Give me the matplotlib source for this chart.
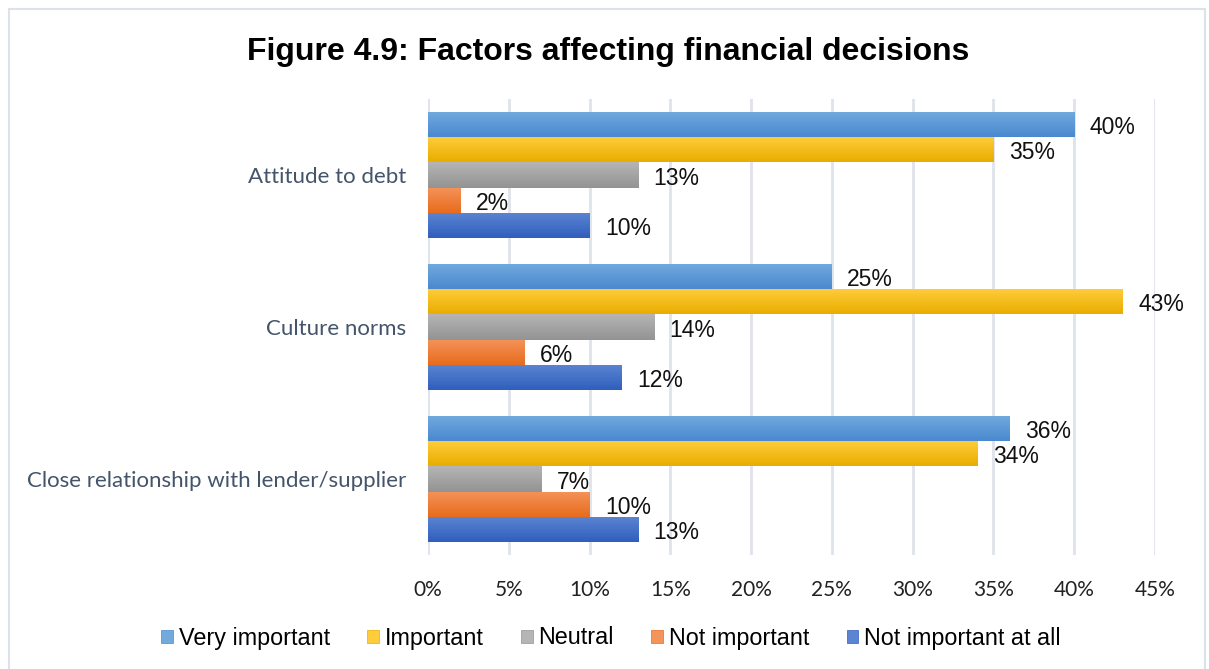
import numpy as np
import matplotlib.pyplot as plt
from matplotlib.colors import LinearSegmentedColormap
from matplotlib.patches import Patch, Rectangle

categories = ["Attitude to debt", "Culture norms", "Close relationship with lender/supplier"]
series = ["Very important", "Important", "Neutral", "Not important", "Not important at all"]

very_important = [40, 25, 36]
important = [35, 43, 34]
neutral = [13, 14, 7]
not_important = [2, 6, 10]
not_important_at_all = [10, 12, 13]

x_ticks = [0, 5, 10, 15, 20, 25, 30, 35, 40, 45]

# top / bottom colour of each series gradient
shades = [
    ("#72aade", "#4a89cf"),
    ("#ffcd3c", "#e9ad00"),
    ("#b5b5b5", "#939393"),
    ("#f4935a", "#e76c1c"),
    ("#5c84d2", "#2f5fbd"),
]

W, H = 1209, 669
fig = plt.figure(figsize=(W / 100, H / 100), dpi=100)
ax = fig.add_axes([428 / W, 1 - 555 / H, 727 / W, 456 / H])

values = [very_important, important, neutral, not_important, not_important_at_all]
bar_h = 0.167
grad = np.linspace(0, 1, 64).reshape(-1, 1)

for i, (name, vals) in enumerate(zip(series, values)):
    y = np.arange(len(categories)) + (i - 2) * bar_h
    cmap = LinearSegmentedColormap.from_list(name, [shades[i][0], shades[i][1]])
    bars = ax.barh(y, vals, height=bar_h, color=shades[i][1], linewidth=0, zorder=2)
    for b, v in zip(bars, vals):
        b.set_alpha(0)
        x0, y0 = b.get_x(), b.get_y()
        # y axis is inverted, so the first row of the gradient goes to the smaller y
        im = ax.imshow(grad, cmap=cmap, aspect="auto", zorder=3, origin="upper",
                       extent=(x0, x0 + b.get_width(), y0 + b.get_height(), y0))
        im.set_clip_path(b)
        ax.text(v + 0.95, y0 + bar_h / 2 + 0.02, f"{v}%", va="center", ha="left",
                fontsize=16.5, family="Liberation Sans", color="#111111", zorder=4)

ax.set_xlim(0, 45)
ax.set_ylim(2.5, -0.5)
ax.set_xticks(x_ticks)
ax.set_xticklabels([f"{t}%" for t in x_ticks], family="Lato", fontsize=15, color="#222222")
ax.set_yticks(range(len(categories)))
ax.set_yticklabels(categories, family="Lato", fontsize=16, color="#44546a")
ax.tick_params(axis="x", length=0, pad=18)
ax.tick_params(axis="y", length=0, pad=16)
ax.grid(axis="x", color="#dfe3ea", linewidth=2, zorder=0)
ax.set_axisbelow(True)
for s in ax.spines.values():
    s.set_visible(False)

fig.text(608 / W, 1 - 52 / H, "Figure 4.9: Factors affecting financial decisions",
         ha="center", va="center", fontsize=23, fontweight="bold", family="Liberation Sans")

handles = [Patch(facecolor=c[0], edgecolor=c[1], linewidth=0.5) for c in shades]
fig.legend(handles, series, loc="center", bbox_to_anchor=(611 / W, 1 - 638 / H), ncol=5,
           frameon=False, prop={"family": "Liberation Sans", "size": 16.8},
           handlelength=0.5, handleheight=0.5, handletextpad=0.25, columnspacing=1.6)

fig.patches.append(Rectangle((9 / W, -0.05), 1196 / W, 1 - 9 / H + 0.05,
                             transform=fig.transFigure, fill=False,
                             edgecolor="#dde1e8", linewidth=1.5))

fig.savefig("out.png", dpi=100)
